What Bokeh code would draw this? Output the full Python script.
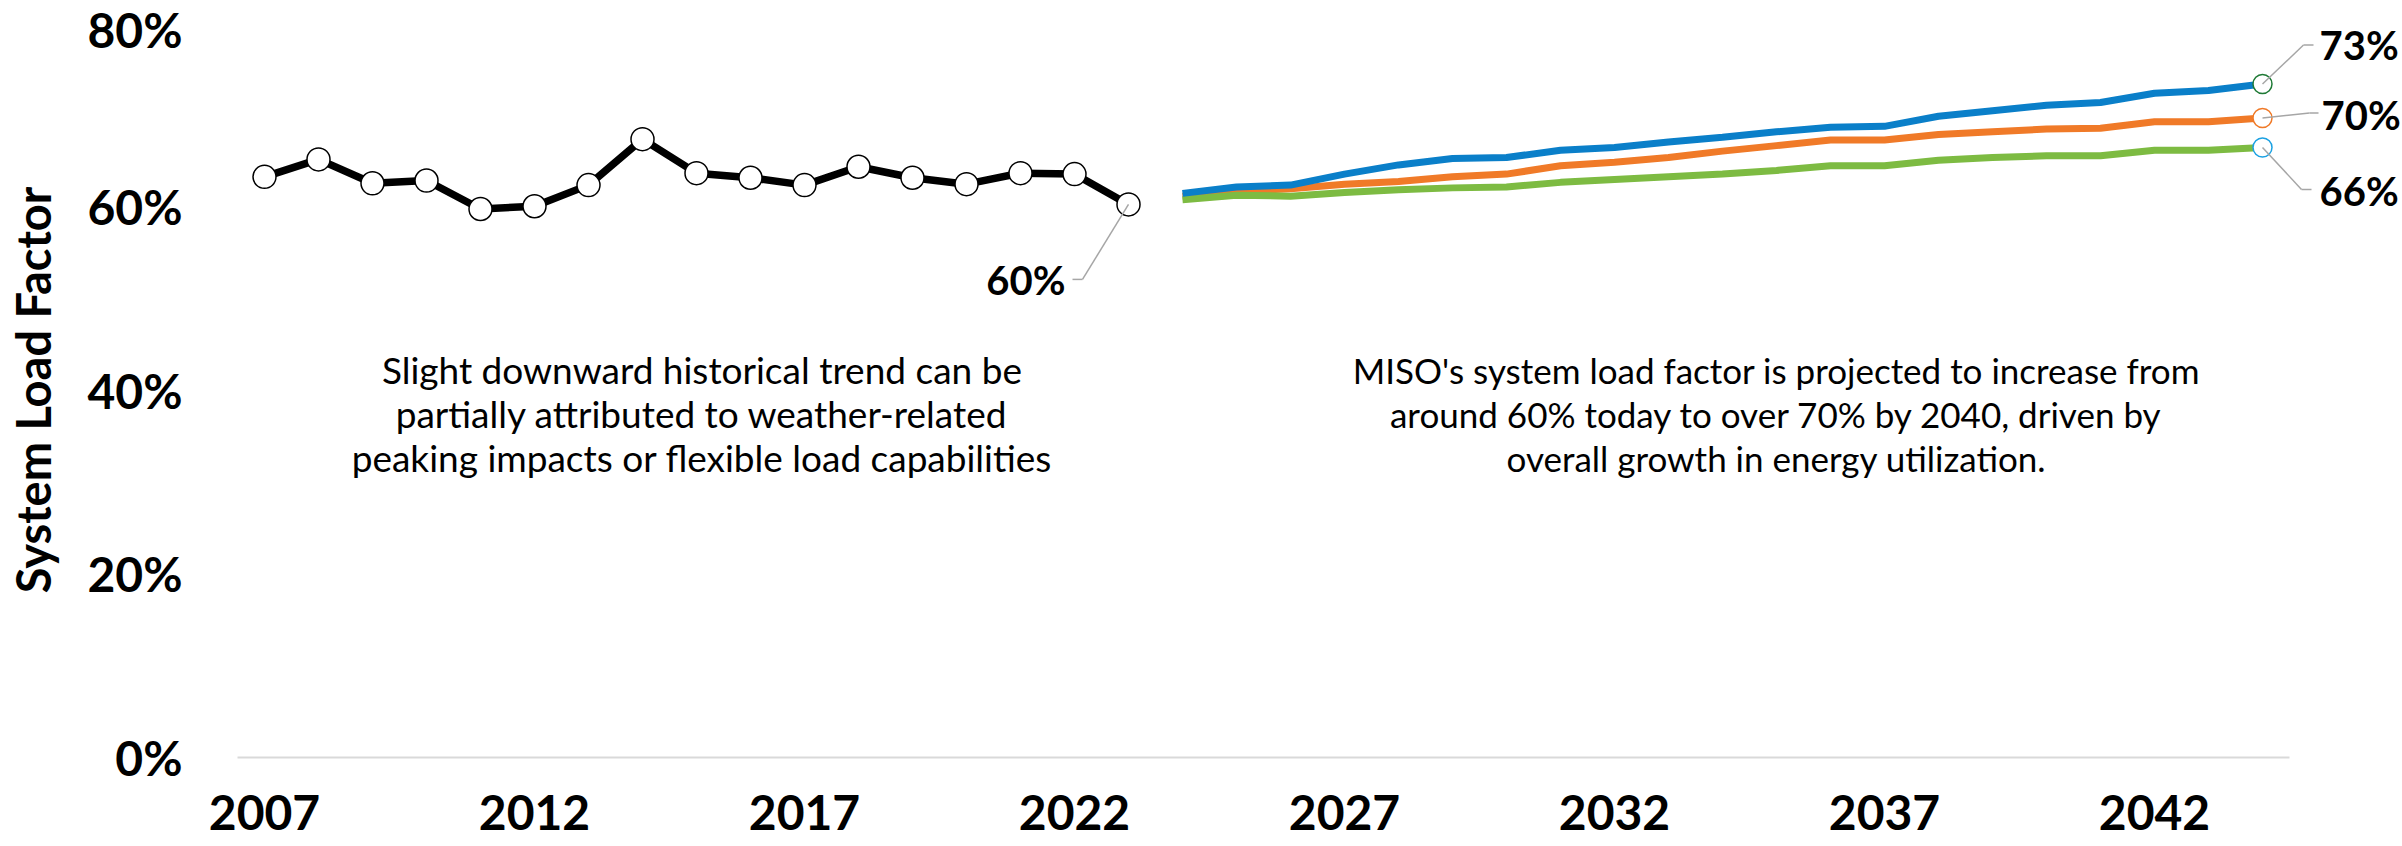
from bokeh.plotting import figure
from bokeh.models import Range1d, FixedTicker, Label, Arrow
from bokeh.embed import file_html
from bokeh.resources import INLINE

# ---- data -------------------------------------------------------------
years_hist = list(range(2007, 2024))
load_factor_hist = [63.2, 65.1, 62.5, 62.8, 59.7, 60.0, 62.3, 67.3, 63.6,
                    63.1, 62.3, 64.3, 63.1, 62.4, 63.6, 63.5, 60.2]

years_proj = list(range(2024, 2045))
proj_high = [61.4, 62.1, 62.3, 63.5, 64.5, 65.2, 65.3, 66.1, 66.4, 67.0, 67.5,
             68.1, 68.6, 68.7, 69.8, 70.4, 71.0, 71.3, 72.3, 72.6, 73.3]
proj_mid = [61.1, 61.6, 61.9, 62.4, 62.7, 63.2, 63.5, 64.4, 64.8, 65.3, 66.0,
            66.6, 67.2, 67.2, 67.8, 68.1, 68.4, 68.5, 69.2, 69.2, 69.6]
proj_low = [60.7, 61.2, 61.1, 61.5, 61.8, 62.0, 62.1, 62.6, 62.9, 63.2, 63.5,
            63.9, 64.4, 64.4, 65.0, 65.3, 65.5, 65.5, 66.1, 66.1, 66.4]

y_ticks = [0, 20, 40, 60, 80]
x_ticks = [2007, 2012, 2017, 2022, 2027, 2032, 2037, 2042]

left_note = ["Slight downward historical trend can be",
             "partially attributed to weather-related",
             "peaking impacts or flexible load capabilities"]
right_note = ["MISO's system load factor is projected to increase from",
              "around 60% today to over 70% by 2040, driven by",
              "overall growth in energy utilization."]

# ---- styling ----------------------------------------------------------
FONT = "Lato"
BLUE, ORANGE, GREEN = "#0a7fc9", "#f07a28", "#7dbb42"
LEADER = "#a6a6a6"

W, H = 2402, 846
B_LEFT, B_TOP, B_BOTTOM = 237, 22, 89
AXIS_W = 2052                      # pixel length of the year axis
X0, X1 = 2006.5, 2044.5            # year span covered by the axis line
Y0, Y1 = 0, 80
DX = (X1 - X0) / AXIS_W            # data units per screen pixel
DY = (Y1 - Y0) / (H - B_TOP - B_BOTTOM)
X_VIEW_END = X0 + (W - B_LEFT) * DX  # leave room for the end labels

p = figure(width=W, height=H, output_backend="svg", toolbar_location=None,
           x_range=Range1d(X0, X_VIEW_END), y_range=Range1d(Y0, Y1),
           min_border_left=B_LEFT, min_border_right=0,
           min_border_top=B_TOP, min_border_bottom=B_BOTTOM)
p.outline_line_color = None
p.grid.visible = False
p.background_fill_color = "white"
p.border_fill_color = "white"

# axes
p.xaxis.ticker = FixedTicker(ticks=x_ticks)
p.xaxis.bounds = (X0, X1)
p.xaxis.major_tick_line_color = None
p.xaxis.minor_tick_line_color = None
p.xaxis.axis_line_color = "#d9d9d9"
p.xaxis.axis_line_width = 2
p.xaxis.major_label_standoff = 31
p.xaxis.major_label_text_font = FONT
p.xaxis.major_label_text_font_style = "bold"
p.xaxis.major_label_text_font_size = "48px"
p.xaxis.major_label_text_color = "black"

p.yaxis.ticker = FixedTicker(ticks=y_ticks)
p.yaxis.major_label_overrides = {t: f"{t}%" for t in y_ticks}
p.yaxis.major_tick_line_color = None
p.yaxis.minor_tick_line_color = None
p.yaxis.axis_line_color = None
p.yaxis.major_label_standoff = 49
p.yaxis.major_label_text_font = FONT
p.yaxis.major_label_text_font_style = "bold"
p.yaxis.major_label_text_font_size = "48px"
p.yaxis.major_label_text_color = "black"
p.yaxis.axis_label = "System Load Factor"
p.yaxis.axis_label_text_font = FONT
p.yaxis.axis_label_text_font_style = "bold"
p.yaxis.axis_label_text_font_size = "47px"
p.yaxis.axis_label_text_color = "black"
p.yaxis.axis_label_standoff = 23

# projections (orange underneath, then green, blue on top)
for ys, col in [(proj_mid, ORANGE), (proj_low, GREEN), (proj_high, BLUE)]:
    p.line(years_proj, ys, line_color=col, line_width=7)

# historical series
p.line(years_hist, load_factor_hist, line_color="black", line_width=7.5)
p.scatter(years_hist, load_factor_hist, size=23, fill_color="white",
          line_color="black", line_width=1.5)

# end-point rings
ring_cols = ["#1f7a36", "#f07a28", "#1ba1e2"]
ends = [proj_high[-1], proj_mid[-1], proj_low[-1]]
p.scatter([years_proj[-1]] * 3, ends, size=19, fill_color="white",
          line_color=ring_cols, line_width=1.5)


def leader(x, y, pts):
    """Draw a thin gray leader from (x, y) through pixel offsets pts."""
    prev = (x, y)
    for ox, oy in pts:
        nxt = (x + ox * DX, y + oy * DY)
        p.add_layout(Arrow(end=None, x_start=prev[0], y_start=prev[1],
                           x_end=nxt[0], y_end=nxt[1],
                           line_color=LEADER, line_width=1.5))
        prev = nxt


def value_label(x, y, ox, oy, align):
    p.add_layout(Label(x=x, y=y, x_offset=ox, y_offset=oy,
                       text=f"{round(y)}%", text_font=FONT,
                       text_font_style="bold", text_font_size="40px",
                       text_align=align, text_baseline="middle",
                       text_color="black"))


# latest historical value
hx, hy = years_hist[-1], load_factor_hist[-1]
leader(hx, hy, [(-46, -75), (-56, -75)])
value_label(hx, hy, -63, -76, "right")

# projected end values
ex = years_proj[-1]
end_layout = [
    (proj_high[-1], [(41, 39), (51, 39)], 57, 39),
    (proj_mid[-1], [(47, 5), (56, 5)], 59, 3),
    (proj_low[-1], [(39, -42), (49, -42)], 57, -44),
]
for ey, pts, ox, oy in end_layout:
    leader(ex, ey, pts)
    value_label(ex, ey, ox, oy, "left")

# notes
for lines, cx, size in [(left_note, 2015.1, "37px"), (right_note, 2035.0, "35px")]:
    for i, line in enumerate(lines):
        p.add_layout(Label(x=cx, y=42.2 - i * 44 * DY, text=line,
                           text_font=FONT, text_font_size=size,
                           text_align="center", text_baseline="middle",
                           text_color="black"))

open("out.html", "w").write(file_html(p, INLINE))
